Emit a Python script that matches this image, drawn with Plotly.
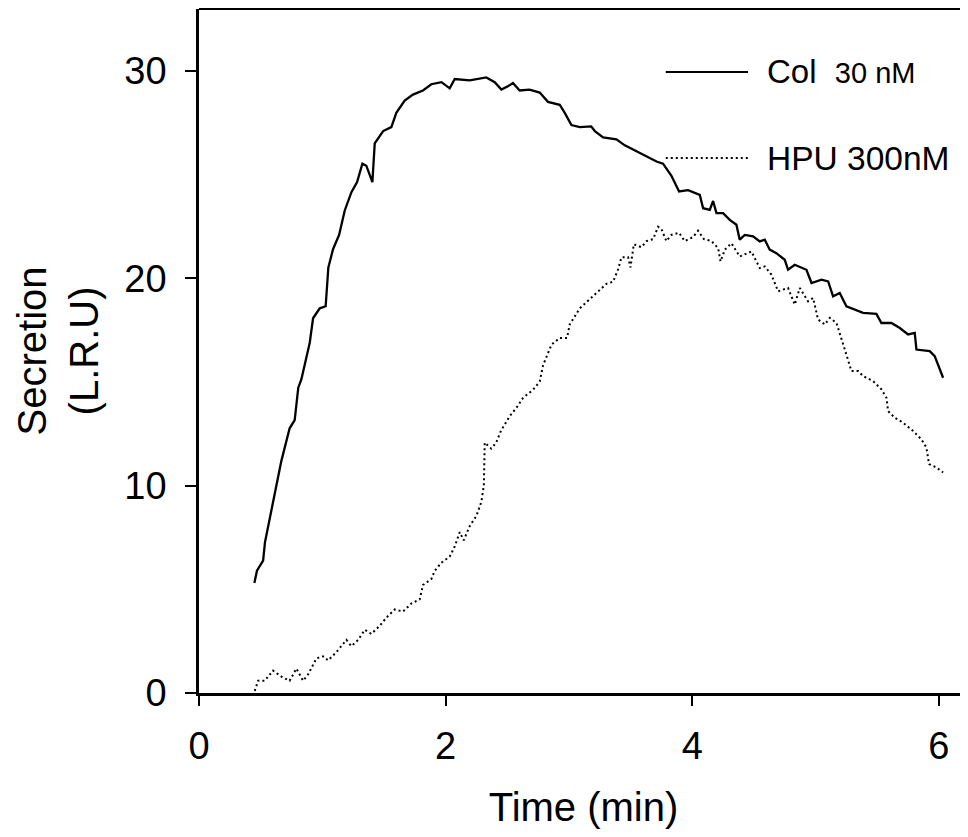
import plotly.graph_objects as go

# Col 30 nM (solid)
col_time = [0.449, 0.47, 0.52, 0.535, 0.588, 0.628, 0.668, 0.735, 0.776, 0.805, 0.83, 0.898, 0.925, 0.979,
            1.027, 1.049, 1.087, 1.136, 1.182, 1.236, 1.282, 1.325, 1.357, 1.406, 1.425, 1.493, 1.56, 1.6,
            1.668, 1.735, 1.816, 1.884, 1.966, 2.033, 2.074, 2.195, 2.275, 2.33, 2.398, 2.452, 2.505, 2.546,
            2.6, 2.68, 2.763, 2.83, 2.925, 2.966, 3.02, 3.088, 3.18, 3.21, 3.277, 3.385, 3.453, 3.547, 3.628,
            3.71, 3.763, 3.831, 3.893, 3.966, 4.061, 4.088, 4.142, 4.169, 4.196, 4.25, 4.304, 4.358, 4.385,
            4.426, 4.493, 4.547, 4.588, 4.628, 4.682, 4.75, 4.777, 4.831, 4.926, 4.967, 5.048, 5.102, 5.142,
            5.196, 5.25, 5.318, 5.385, 5.493, 5.534, 5.615, 5.683, 5.75, 5.804, 5.818, 5.926, 5.966, 6.034]
col_value = [5.31, 5.9, 6.39, 7.27, 8.84, 10.02, 11.2, 12.77, 13.16, 14.73, 15.13, 16.9, 18.08, 18.56,
             18.66, 20.53, 21.41, 22.1, 23.28, 24.16, 24.65, 25.54, 25.44, 24.65, 26.52, 27.11, 27.3, 27.99,
             28.58, 28.87, 29.07, 29.37, 29.47, 29.17, 29.62, 29.56, 29.66, 29.7, 29.47, 29.11, 29.27, 29.43,
             29.07, 29.11, 28.97, 28.52, 28.38, 27.99, 27.4, 27.3, 27.34, 27.11, 26.81, 26.71, 26.42, 26.13, 25.89,
             25.64, 25.54, 24.95, 24.2, 24.26, 24.03, 23.39, 23.31, 23.74, 23.15, 23.15, 22.83, 22.59, 21.87,
             22.1, 22.03, 21.79, 21.87, 21.39, 21.22, 20.9, 20.42, 20.66, 20.42, 19.78, 19.94, 19.86, 19.14,
             19.3, 18.66, 18.5, 18.34, 18.29, 17.85, 17.85, 17.61, 17.3, 17.37, 16.57, 16.49, 16.25, 15.21]

# HPU 300nM (dotted)
hpu_time = [0.452, 0.479, 0.533, 0.6, 0.668, 0.735, 0.79, 0.844, 0.884, 0.952, 1.006, 1.047, 1.114, 1.195,
            1.236, 1.29, 1.344, 1.398, 1.465, 1.52, 1.587, 1.655, 1.722, 1.79, 1.816, 1.884, 1.911, 1.966,
            2.033, 2.074, 2.114, 2.147, 2.195, 2.25, 2.29, 2.31, 2.317, 2.37, 2.41, 2.45, 2.52, 2.573, 2.628,
            2.709, 2.763, 2.79, 2.858, 2.925, 2.985, 3.006, 3.088, 3.142, 3.209, 3.304, 3.358, 3.398, 3.426,
            3.48, 3.499, 3.526, 3.588, 3.629, 3.683, 3.723, 3.75, 3.79, 3.83, 3.893, 3.939, 4.007, 4.047,
            4.094, 4.115, 4.156, 4.21, 4.229, 4.264, 4.318, 4.385, 4.48, 4.547, 4.588, 4.642, 4.696, 4.777,
            4.831, 4.872, 4.939, 4.98, 5.02, 5.075, 5.115, 5.17, 5.25, 5.291, 5.345, 5.385, 5.466, 5.534,
            5.575, 5.588, 5.642, 5.71, 5.791, 5.858, 5.899, 5.92, 5.98, 6.034]
hpu_value = [0.1, 0.59, 0.59, 1.08, 0.79, 0.59, 1.18, 0.59, 0.89, 1.67, 1.77, 1.57, 1.97, 2.56,
             2.26, 2.56, 3.05, 2.85, 3.24, 3.64, 4.03, 3.93, 4.32, 4.52, 5.21, 5.5, 5.89, 6.29,
             6.58, 7.07, 7.76, 7.37, 8.05, 8.55, 9.23, 10.02, 12.08, 11.79, 12.08, 12.67, 13.36, 13.75, 14.24,
             14.63, 15.03, 15.81, 16.8, 17.13, 17.13, 17.78, 18.56, 18.86, 19.25, 19.74, 19.84, 20.43, 21.02,
             21.02, 20.53, 21.65, 21.51, 21.8, 21.9, 22.49, 22.39, 21.8, 22.1, 22.2, 21.8, 22.0, 22.3,
             21.9, 21.87, 21.8, 21.46, 20.82, 21.39, 21.7, 21.06, 21.3, 20.5, 20.58, 20.18, 19.38, 19.54,
             18.74, 19.54, 18.9, 19.06, 18.02, 17.78, 18.1, 17.85, 16.33, 15.53, 15.53, 15.29, 15.05, 14.65,
             14.24, 13.6, 13.28, 13.04, 12.64, 12.24, 11.84, 11.04, 10.88, 10.64]

x_ticks = [0, 2, 4, 6]
y_ticks = [0, 10, 20, 30]

FONT = "Liberation Sans, Arial, sans-serif"

fig = go.Figure()
fig.add_trace(go.Scatter(x=col_time, y=col_value, mode="lines", name="Col 30 nM",
                         line=dict(color="black", width=2.3), showlegend=False))
fig.add_trace(go.Scatter(x=hpu_time, y=hpu_value, mode="lines", name="HPU 300nM",
                         line=dict(color="black", width=2, dash="2px,3px"), showlegend=False))

# legend drawn manually
fig.add_shape(type="line", xref="paper", yref="paper", x0=0.607, x1=0.714, y0=0.908, y1=0.908,
              line=dict(color="black", width=2))
fig.add_shape(type="line", xref="paper", yref="paper", x0=0.607, x1=0.714, y0=0.782, y1=0.782,
              line=dict(color="black", width=2, dash="2px,3px"))
fig.add_annotation(xref="paper", yref="paper", x=0.736, y=0.908, xanchor="left", yanchor="middle",
                   showarrow=False, font=dict(family=FONT, size=33, color="black"),
                   text='Col&nbsp;&nbsp;<span style="font-size:29px">30 nM</span>')
fig.add_annotation(xref="paper", yref="paper", x=0.736, y=0.782, xanchor="left", yanchor="middle",
                   showarrow=False, font=dict(family=FONT, size=33.5, color="black"),
                   text="HPU 300nM")
# top frame line
fig.add_shape(type="line", xref="paper", yref="paper", x0=0, x1=1, y0=1, y1=1,
              line=dict(color="black", width=2))

# page has an 8px body margin, so the figure is sized/offset to compensate
fig.update_layout(
    width=960, height=821,
    margin=dict(l=191, r=0, t=1, b=136, autoexpand=False),
    plot_bgcolor="white", paper_bgcolor="white",
    font=dict(family=FONT, color="black"),
)
fig.update_xaxes(range=[0, 6.236], tickvals=x_ticks, ticks="outside", ticklen=10, tickwidth=2,
                 tickcolor="black", showline=True, linecolor="black", linewidth=2.5,
                 showgrid=False, zeroline=False, tickfont=dict(size=38),
                 ticklabelstandoff=8,
                 title=dict(text="Time (min)", font=dict(size=40), standoff=30))
fig.update_yaxes(range=[0, 33], tickvals=y_ticks, ticks="outside", ticklen=11, tickwidth=2,
                 tickcolor="black", showline=True, linecolor="black", linewidth=2.5,
                 showgrid=False, zeroline=False, tickfont=dict(size=38),
                 ticklabelstandoff=11,
                 title=dict(text="Secretion<br>(L.R.U)", font=dict(size=40), standoff=14))

fig.write_html("out.html")
